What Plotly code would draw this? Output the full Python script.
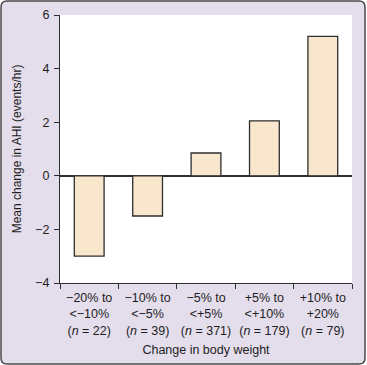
import plotly.graph_objects as go

categories = [
    "\u221220% to<br><\u221210%<br>(<i>n</i> = 22)",
    "\u221210% to<br><\u22125%<br>(<i>n</i> = 39)",
    "\u22125% to<br><+5%<br>(<i>n</i> = 371)",
    "+5% to<br><+10%<br>(<i>n</i> = 179)",
    "+10% to<br>+20%<br>(<i>n</i> = 79)",
]
mean_change_ahi = [-3.0, -1.5, 0.85, 2.05, 5.2]
y_ticks = [-4, -2, 0, 2, 4, 6]

FONT = "Liberation Sans, Arial, sans-serif"
DARK = "#2e2e2e"
TEXT = "#1e1e1e"

fig = go.Figure(
    go.Bar(
        x=categories,
        y=mean_change_ahi,
        marker=dict(color="#f9e7cd", line=dict(color=DARK, width=1.3)),
        hoverinfo="skip",
    )
)

fig.update_layout(
    width=367,
    height=365,
    margin=dict(l=60, r=15, t=15, b=82),
    paper_bgcolor="white",
    plot_bgcolor="white",
    bargap=0.49,
    showlegend=False,
    font=dict(family=FONT, size=12, color=TEXT),
    shapes=[
        dict(
            type="path",
            xref="paper", yref="paper",
            xsizemode="pixel", ysizemode="pixel",
            xanchor=0, yanchor=0,
            path="M -53,282 L 299,282 Q 305,282 305,276 L 305,-75 Q 305,-81 299,-81 "
                 "L -53,-81 Q -59,-81 -59,-75 L -59,276 Q -59,282 -53,282 Z",
            fillcolor="#e4ddec",
            line=dict(color="#4a4a4a", width=1.5),
            layer="below",
        ),
        dict(
            type="rect", xref="paper", yref="paper",
            x0=0, x1=1, y0=0, y1=1,
            fillcolor="white", line=dict(width=0),
            layer="below",
        ),
    ],
)

fig.update_xaxes(
    type="category",
    automargin=False,
    tickson="boundaries",
    ticks="outside",
    ticklen=5,
    tickwidth=1.2,
    tickcolor=DARK,
    showline=True,
    linecolor=DARK,
    linewidth=1.3,
    showgrid=False,
    tickangle=0,
    ticklabelstandoff=3,
    tickfont=dict(size=12.5, color=TEXT),
    title=dict(text="Change in body weight", font=dict(size=12.5, color=TEXT), standoff=8),
)

fig.update_yaxes(
    automargin=False,
    range=[-4, 6],
    tickvals=y_ticks,
    ticks="outside",
    ticklen=5,
    tickwidth=1.2,
    tickcolor=DARK,
    showline=True,
    linecolor=DARK,
    linewidth=1.3,
    showgrid=False,
    zeroline=True,
    zerolinecolor=DARK,
    zerolinewidth=1.5,
    ticklabelstandoff=2,
    tickfont=dict(size=12.5, color=TEXT),
    title=dict(text="Mean change in AHI (events/hr)", font=dict(size=12, color=TEXT), standoff=10),
)

fig.write_html(
    "out.html",
    config={"displayModeBar": False},
    post_script="document.body.style.margin='0';document.body.style.padding='0';",
)
